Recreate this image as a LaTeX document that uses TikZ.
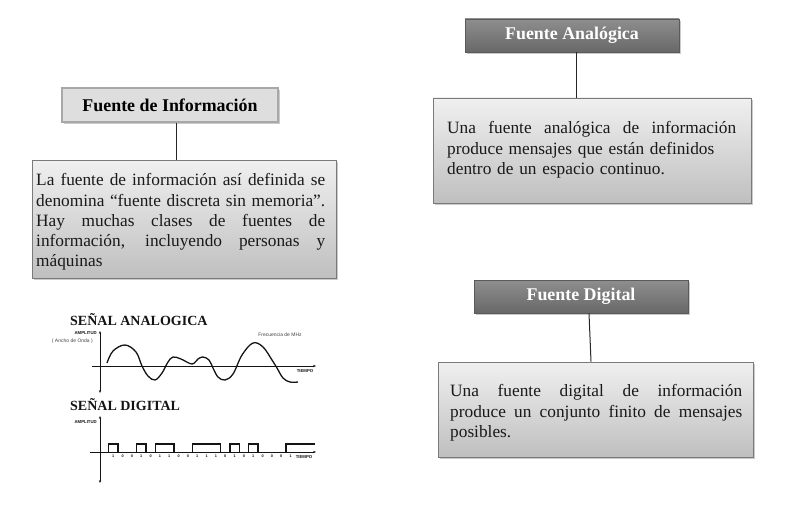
\documentclass[tikz,border=0pt]{standalone}
\usepackage{fontspec}
\setmainfont{Liberation Serif}
\setsansfont{Liberation Sans}
\usetikzlibrary{shadows,arrows.meta}
\newcommand{\jline}[2]{\makebox[#1][s]{\spaceskip=0.25em plus 3em minus 0.06em\relax #2}}
\definecolor{lightfill}{HTML}{DEDEDE}
\definecolor{lightedge}{HTML}{A8A8A8}
\definecolor{bodytop}{HTML}{F0F0F0}
\definecolor{bodybot}{HTML}{BFBFBF}
\definecolor{bodyedge}{HTML}{7A7A7A}
\definecolor{darktop}{HTML}{8E8E8E}
\definecolor{darkbot}{HTML}{686868}
\definecolor{darkedge}{HTML}{5A5A5A}
\definecolor{sig}{HTML}{141414}
\tikzset{
  boxshadow/.style={drop shadow={shadow xshift=2pt,shadow yshift=-2pt,opacity=0.35,fill=black!60}},
  lighthead/.style={rectangle,fill=lightfill,draw=lightedge,line width=2.4pt,boxshadow,
    font=\fontsize{17.9}{20}\selectfont\bfseries,text=black,inner sep=0pt},
  darkhead/.style={rectangle,top color=darktop,bottom color=darkbot,draw=darkedge,line width=0.6pt,boxshadow,
    font=\fontsize{17.9}{20}\selectfont\bfseries,text=white,inner sep=0pt},
  bodybox/.style={rectangle,top color=bodytop,bottom color=bodybot,draw=bodyedge,line width=0.8pt,boxshadow,inner sep=0pt},
  bodytext/.style={anchor=north west,inner sep=0pt,align=left,font=\fontsize{17.3}{20.3}\selectfont,text=black!90},
  link/.style={draw=black!85,line width=1pt},
  axis/.style={draw=sig,line width=0.8pt},
  sigline/.style={draw=sig,line width=1.3pt},
  title/.style={anchor=base west,inner sep=0pt,font=\fontsize{14}{16}\selectfont\bfseries,text=sig},
  tiny/.style={inner sep=0pt,font=\sffamily\bfseries\fontsize{4.3}{5}\selectfont,text=sig},
  tinyreg/.style={inner sep=0pt,font=\sffamily\fontsize{5}{6}\selectfont,text=sig!80},
  bit/.style={inner sep=0pt,font=\sffamily\bfseries\fontsize{3.8}{4}\selectfont,text=sig}
}
\begin{document}
\begin{tikzpicture}[x=1pt,y=-1pt]
\useasboundingbox (0,0) rectangle (794,532);

% ---------- Fuente de Informacion ----------
\node[lighthead,minimum width=216pt,minimum height=34pt] (h1) at (170,105) {Fuente de Información};
\node[bodybox,minimum width=304pt,minimum height=118pt] (b1) at (184,219) {};
\node[bodytext,text width=290pt] (t1) at (36,171.3) {%
\strut\jline{289pt}{La fuente de información así definida se}\\
\jline{289pt}{denomina “fuente discreta sin memoria”.}\\
\jline{289pt}{Hay muchas clases de fuentes de}\\
\jline{289pt}{información, incluyendo personas y}\\
máquinas};
\draw[link] ([xshift=6pt]h1.south) -- ([xshift=6pt]h1.south |- b1.north);

% ---------- Fuente Analogica ----------
\node[darkhead,minimum width=214pt,minimum height=33pt] (h2) at (572,35.5) {Fuente Analógica};
\node[bodybox,minimum width=318pt,minimum height=105pt] (b2) at (592,150.5) {};
\node[bodytext,text width=290pt] (t2) at (447,119.3) {%
\strut\jline{289pt}{Una fuente analógica de información}\\
produce mensajes que están definidos\\
dentro de un espacio continuo.};
\draw[link] ([xshift=4pt]h2.south) -- ([xshift=4pt]h2.south |- b2.north);

% ---------- Fuente Digital ----------
\node[darkhead,minimum width=214pt,minimum height=33pt] (h3) at (581,296.5) {Fuente Digital};
\node[bodybox,minimum width=315pt,minimum height=95pt] (b3) at (595.5,409.5) {};
\node[bodytext,text width=293pt] (t3) at (450,382.3) {%
\strut\jline{292pt}{Una fuente digital de información}\\
\jline{292pt}{produce un conjunto finito de mensajes}\\
posibles.};
\draw[link] ([xshift=8pt]h3.south) -- ([xshift=10pt]h3.south |- b3.north);

% ---------- Senal analogica ----------
\node[title] (sa) at (70,325.5) {SEÑAL ANALOGICA};
\node[tiny,anchor=east] (amp1) at (97,333) {AMPLITUD};
\node[tinyreg,anchor=east] (onda) at (93,341) {( Ancho de Onda )};
\node[tinyreg] (frec) at (280,335) {Frecuencia de MHz};
\node[tiny] (tie1) at (305,371) {TIEMPO};
\draw[axis,{Stealth[length=3pt,width=2.4pt]}-{Stealth[length=3pt,width=2.4pt]}] (100,331) -- (100,393);
\draw[axis,-{Stealth[length=3pt,width=2.4pt]}] (92,366) -- (316,366);
\draw[sigline] plot[smooth,tension=0.6] coordinates {
 (107,363) (113,351) (125,345) (136,352) (142,366) (148,376) (155,380) (162,373)
 (168,362) (173,357) (181,359) (192,364) (198,359) (203,357) (209,360) (213,368)
 (218,377) (225,380) (233,374) (242,355) (253,343) (263,347) (272,360) (277,368)
 (283,378) (290,382) (298,382)};

% ---------- Senal digital ----------
\node[title] (sd) at (70,410) {SEÑAL DIGITAL};
\node[tiny,anchor=east] (amp2) at (97,422) {AMPLITUD};
\draw[axis,{Stealth[length=3pt,width=2.4pt]}-{Stealth[length=3pt,width=2.4pt]}] (100,416) -- (100,483);
\draw[axis,-{Stealth[length=3pt,width=2.4pt]}] (90,452) -- (316,452);
\foreach \a/\b in {108.7/118, 136.7/146, 155.3/174, 192.7/220.7, 229.9/239.3, 248.6/258}{
  \draw[sigline] (\a,452) -- (\a,444) -- (\b,444) -- (\b,452);
}
\draw[sigline] (286,452) -- (286,444) -- (315,444);
\foreach \v [count=\k from 0] in {1,0,0,1,0,1,1,0,0,1,1,1,0,1,0,1,0,0,0,1}{
  \node[bit] (bit\k) at (113.3+9.33*\k,456) {\v};
}
\node[tiny] (tie2) at (304,457) {TIEMPO};
\end{tikzpicture}
\end{document}
